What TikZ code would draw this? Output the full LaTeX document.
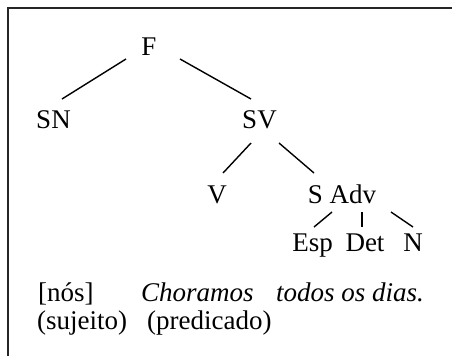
\documentclass[tikz,border=0pt]{standalone}
\usepackage{fontspec}
\setmainfont{Liberation Serif}
\newfontfamily\tnr{Liberation Serif}
\begin{document}
\begin{tikzpicture}[x=1bp,y=-1bp,
  lbl/.style={inner sep=0pt,anchor=base,font=\tnr\fontsize{27bp}{31bp}\selectfont},
  lbll/.style={inner sep=0pt,anchor=base west,font=\tnr\fontsize{27bp}{31bp}\selectfont},
  edge/.style={line width=1.4bp,black},
  frame/.style={line width=1.5bp,black!85}]
\useasboundingbox (0,0) rectangle (452,356);
\fill[white] (0,0) rectangle (452,356);
\draw[frame] (8,356) -- (8,8) -- (452,8);
% tree nodes
\node[lbl] (F) at (149,55) {F};
\node[lbl] (SN) at (53.5,128) {SN};
\node[lbl] (SV) at (259.5,128) {SV};
\node[lbl] (V) at (217,203) {V};
\node[lbl] (SAdv) at (342,203) {S Adv};
\node[lbl] (Esp) at (312.5,251) {Esp};
\node[lbl] (Det) at (365,251) {Det};
\node[lbl] (N) at (413,251) {N};
% connectors
\draw[edge] ([shift={(-23,4)}]F.base) -- ([shift={(8.5,-29)}]SN.base);
\draw[edge] ([shift={(31,4)}]F.base) -- ([shift={(-8.5,-29)}]SV.base);
\draw[edge] ([shift={(-8.5,15)}]SV.base) -- ([shift={(6,-30)}]V.base);
\draw[edge] ([shift={(19.5,15)}]SV.base) -- ([shift={(-28,-30)}]SAdv.base);
\draw[edge] ([shift={(-10,9)}]SAdv.base) -- ([shift={(1.5,-24)}]Esp.base);
\draw[edge] ([shift={(20,9)}]SAdv.base) -- ([shift={(-3,-24)}]Det.base);
\draw[edge] ([shift={(49,9)}]SAdv.base) -- ([shift={(0,-24)}]N.base);
% sentence
\node[lbll] (nos) at (38,301) {[nós]};
\node[lbll] (chor) at (141,301) {\itshape Choramos};
\node[lbll] (todos) at (276,301) {\itshape todos\ os\ dias.};
\node[lbll] (suj) at (37,329) {(sujeito)};
\node[lbll] (pred) at (147,329) {(predicado)};
\end{tikzpicture}
\end{document}
